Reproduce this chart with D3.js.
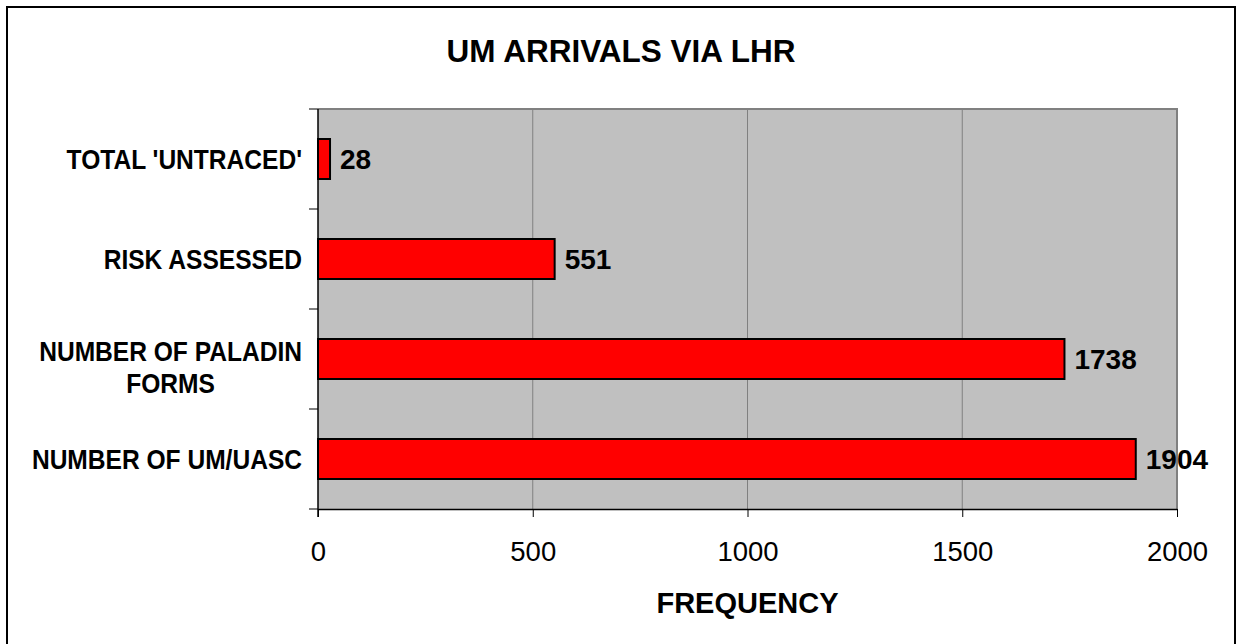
<!DOCTYPE html>
<html>
<head>
<meta charset="utf-8">
<script src="https://cdn.jsdelivr.net/npm/d3@7"></script>
<style>
  body { margin: 0; background: #fff; }
  text { font-family: "Liberation Sans", Arial, sans-serif; }
</style>
</head>
<body>
<div id="chart"></div>
<script>
// categories top to bottom, one array per thing
const categories = ["TOTAL 'UNTRACED'", "RISK ASSESSED", "NUMBER OF PALADIN\nFORMS", "NUMBER OF UM/UASC"];
const values = [28, 551, 1738, 1904];
const xTicks = [0, 500, 1000, 1500, 2000];

const W = 1238, H = 644;
let margin = { left: 318, right: 61, top: 109, bottom: 135 };
let width = W - margin.left - margin.right;
let height = H - margin.top - margin.bottom;

let svg = d3.select('#chart').append('svg')
    .attr('width', W)
    .attr('height', H);

// outer frame (bottom edge runs off the picture)
svg.append('rect')
    .attr('x', 7).attr('y', 7)
    .attr('width', 1228).attr('height', 650)
    .attr('fill', '#fff')
    .attr('stroke', '#000')
    .attr('stroke-width', 2);

svg.append('text')
    .attr('x', 621).attr('y', 62)
    .attr('text-anchor', 'middle')
    .attr('font-weight', 'bold')
    .attr('font-size', 31.5)
    .text('UM ARRIVALS VIA LHR');

let g = svg.append('g')
    .attr('transform', 'translate(' + margin.left + ',' + margin.top + ')');

let xScale = d3.scaleLinear()
    .domain([0, 2000])
    .range([0, width]);

let yScale = d3.scaleBand()
    .domain(categories)
    .range([0, height])
    .paddingInner(0.6)
    .paddingOuter(0.3);

// plot background
g.append('rect')
    .attr('width', width)
    .attr('height', height)
    .attr('fill', '#c0c0c0');

// vertical gridlines
g.selectAll('.grid')
    .data(xTicks.slice(1))
    .enter()
    .append('line')
    .attr('class', 'grid')
    .attr('x1', d => xScale(d)).attr('x2', d => xScale(d))
    .attr('y1', 0).attr('y2', height)
    .attr('stroke', '#808080')
    .attr('stroke-width', d => d === 2000 ? 2 : 1);

// top border of plot
g.append('line')
    .attr('x1', 0).attr('x2', width + 1)
    .attr('y1', 0).attr('y2', 0)
    .attr('stroke', '#808080')
    .attr('stroke-width', 2);

// bars
g.selectAll('.bar')
    .data(values)
    .enter()
    .append('rect')
    .attr('class', 'bar')
    .attr('x', 0)
    .attr('y', (d, i) => yScale(categories[i]))
    .attr('width', d => xScale(d))
    .attr('height', yScale.bandwidth())
    .attr('fill', '#ff0000')
    .attr('stroke', '#000')
    .attr('stroke-width', 2);

// value labels
g.selectAll('.val')
    .data(values)
    .enter()
    .append('text')
    .attr('class', 'val')
    .attr('x', d => xScale(d) + 10)
    .attr('y', (d, i) => yScale(categories[i]) + yScale.bandwidth() / 2)
    .attr('dy', '0.36em')
    .attr('font-weight', 'bold')
    .attr('font-size', 28)
    .text(d => d);

// x axis
let xAxis = d3.axisBottom(xScale)
    .tickValues(xTicks)
    .tickFormat(d3.format('d'))
    .tickSize(8)
    .tickSizeOuter(0);

let xg = g.append('g')
    .attr('transform', 'translate(0,' + height + ')')
    .call(xAxis);
xg.select('.domain').attr('stroke', '#000').attr('stroke-width', 1.5);
xg.selectAll('.tick line').attr('stroke', '#000');
xg.selectAll('.tick text')
    .attr('y', 52)
    .attr('dy', 0)
    .attr('font-size', 27.5)
    .attr('font-family', '"Liberation Sans", Arial, sans-serif')
    .attr('fill', '#000');

// y axis line and ticks between categories
let step = yScale.step();
g.append('line')
    .attr('x1', 0).attr('x2', 0)
    .attr('y1', 0).attr('y2', height + 8)
    .attr('stroke', '#000')
    .attr('stroke-width', 1.5);
g.selectAll('.ytick')
    .data(d3.range(categories.length + 1))
    .enter()
    .append('line')
    .attr('x1', -9).attr('x2', 0)
    .attr('y1', i => i * step).attr('y2', i => i * step)
    .attr('stroke', '#000');

// category labels, narrow bold, lines centred on each other
let labelRight = -16;
categories.forEach((c, i) => {
    let lines = c.split('\n');
    let cy = yScale(c) + yScale.bandwidth() / 2;
    let shift = lines.length > 1 ? 8 : 0;
    let lg = g.append('g')
        .attr('transform', 'translate(' + labelRight + ',0) scale(0.91,1)');
    let t = lg.append('text')
        .attr('font-weight', 'bold')
        .attr('font-size', 27)
        .attr('text-anchor', 'middle');
    lines.forEach((l, j) => {
        t.append('tspan')
            .attr('y', cy + shift + (j - (lines.length - 1) / 2) * 32)
            .attr('dy', '0.36em')
            .text(l);
    });
    let maxW = d3.max(t.selectAll('tspan').nodes(), n => n.getComputedTextLength());
    t.selectAll('tspan').attr('x', -maxW / 2);
});

g.append('text')
    .attr('x', xScale(1000))
    .attr('y', height + 104)
    .attr('text-anchor', 'middle')
    .attr('font-weight', 'bold')
    .attr('font-size', 29)
    .text('FREQUENCY');
</script>
</body>
</html>
